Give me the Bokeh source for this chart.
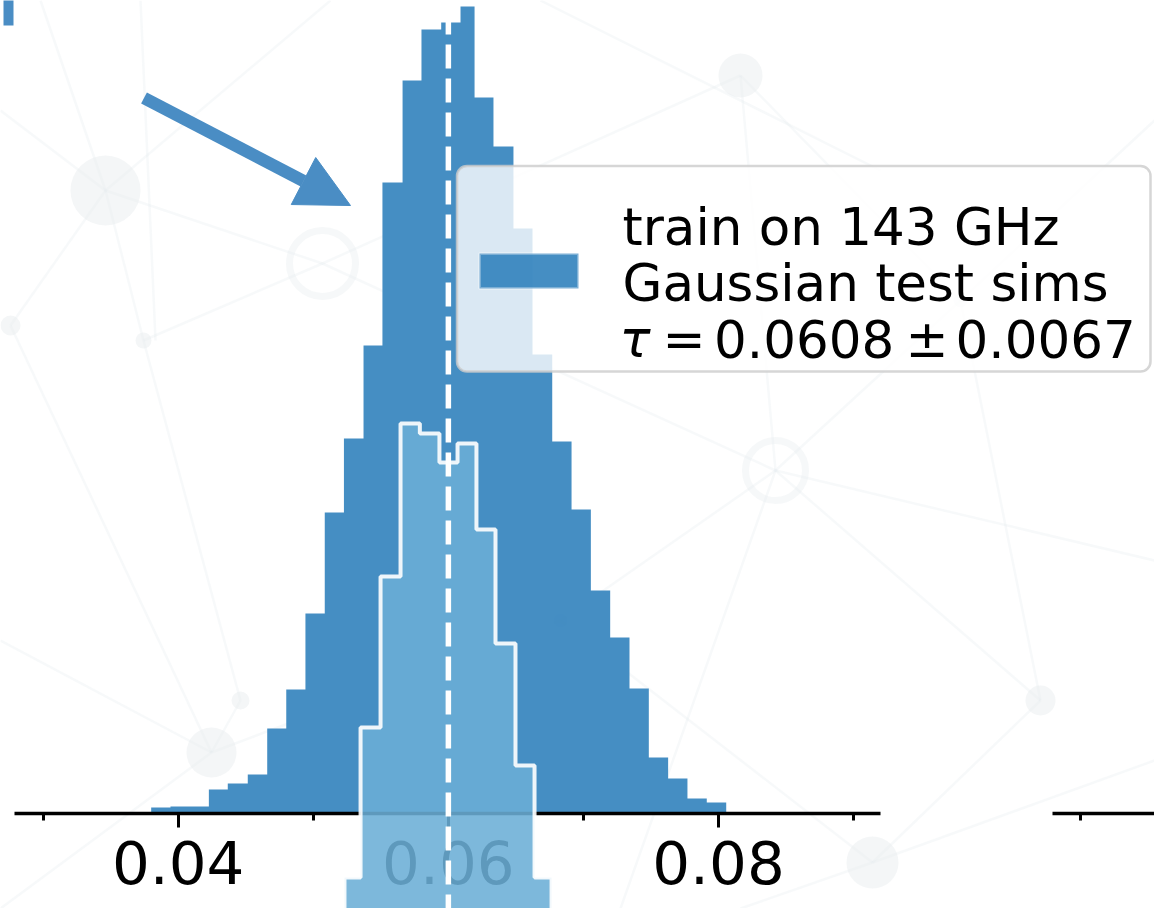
from bokeh.plotting import figure
from bokeh.models import (Range1d, LinearAxis, FixedTicker, NumeralTickFormatter,
                          BoxAnnotation, Label, Arrow, NormalHead)
from bokeh.embed import file_html
from bokeh.resources import INLINE

# ---------------------------------------------------------------- data
# tau estimates of the network trained on 143 GHz, Gaussian test simulations
dark_edges = [0.03800, 0.03943, 0.04086, 0.04227, 0.04367, 0.04515, 0.04659,
              0.04800, 0.04942, 0.05085, 0.05227, 0.05372, 0.05512, 0.05661,
              0.05801, 0.05947, 0.06090, 0.06194, 0.06334, 0.06482, 0.06623,
              0.06769, 0.06912, 0.07055, 0.07198, 0.07341, 0.07484, 0.07627,
              0.07770, 0.07913, 0.08057]
dark_counts = [6, 7, 7, 24, 30, 39, 85, 124, 200, 301, 375, 468, 631, 733,
               784, 791, 807, 716, 667, 585, 459, 372, 304, 223, 176, 125,
               56, 35, 15, 11]

# narrower companion distribution, drawn on a lowered baseline
light_edges = [0.05231, 0.05350, 0.05498, 0.05646, 0.05789, 0.05934, 0.06068,
               0.06208, 0.06349, 0.06497, 0.06638, 0.06764]
light_counts = [136, 286, 437, 590, 580, 551, 570, 484, 370, 248, 136]
light_base = -200

tau_true = 0.06
legend_lines = ["train on 143 GHz", "Gaussian test sims"]
tau_text = ["\u03c4", "=", "0.0608", "\u00b1", "0.0067"]

major_ticks = [0.04, 0.06, 0.08]
minor_ticks = [0.03, 0.05, 0.07, 0.09]
axis_bounds = (0.0279, 0.0920)

# ---------------------------------------------------------------- canvas
W, H = 1154, 908
X0, X1 = 0.026845, 0.112276        # visible tau range across the canvas
Y0, Y1 = -95, 813                  # counts; the spine sits at zero
PANEL_SHIFT = 0.076807             # offset of the neighbouring panel


def fx(px):
    return X0 + px * (X1 - X0) / W


def fy(py):
    return Y1 - py


BLUE = "#3182bd"
LIGHT = "#6baed6"
NET = "#e6eaee"

p = figure(width=W, height=H, x_range=Range1d(X0, X1), y_range=Range1d(Y0, Y1),
           x_axis_type=None, y_axis_type=None, output_backend="svg",
           toolbar_location=None, min_border=0)
p.outline_line_color = None
p.background_fill_color = "white"
p.border_fill_color = "white"
p.extra_x_ranges = {"right": Range1d(X0 - PANEL_SHIFT, X1 - PANEL_SHIFT)}

# faint network backdrop
net_nodes_px = [(105, 190), (322, 263), (211, 752), (775, 470), (872, 862),
                (740, 75), (10, 325), (143, 340), (240, 700), (1040, 700),
                (560, 620), (960, 300)]
net_sizes = [70, 66, 50, 60, 52, 44, 20, 16, 18, 30, 14, 14]
net_rings = [False, True, False, True, False, False, False, False, False,
             False, False, False]
net_links = [(0, 1), (0, 6), (0, 7), (1, 5), (1, 7), (2, 8), (2, 10), (3, 5),
             (3, 10), (3, 11), (4, 10), (4, 9), (3, 9), (5, 11), (8, 7),
             (2, 6), (11, 9), (1, 3)]
net_open_px = [((40, 0), (105, 190)), ((330, 0), (105, 190)), ((0, 110), (105, 190)),
               ((140, 0), (155, 340)), ((540, 0), (880, 170)), ((0, 908), (211, 752)),
               ((0, 640), (211, 752)), ((872, 862), (1154, 760)), ((740, 908), (872, 862)),
               ((1154, 120), (960, 300)), ((620, 908), (775, 470)), ((1154, 560), (775, 470))]

seg_x = [[fx(net_nodes_px[a][0]), fx(net_nodes_px[b][0])] for a, b in net_links]
seg_y = [[fy(net_nodes_px[a][1]), fy(net_nodes_px[b][1])] for a, b in net_links]
seg_x += [[fx(a[0]), fx(b[0])] for a, b in net_open_px]
seg_y += [[fy(a[1]), fy(b[1])] for a, b in net_open_px]
p.multi_line(seg_x, seg_y, line_color=NET, line_alpha=0.3, line_width=2.5)

solid = [i for i, r in enumerate(net_rings) if not r]
ring = [i for i, r in enumerate(net_rings) if r]
p.scatter([fx(net_nodes_px[i][0]) for i in solid], [fy(net_nodes_px[i][1]) for i in solid],
          size=[net_sizes[i] for i in solid], fill_color=NET, fill_alpha=0.45,
          line_color=None)
p.scatter([fx(net_nodes_px[i][0]) for i in ring], [fy(net_nodes_px[i][1]) for i in ring],
          size=[net_sizes[i] for i in ring], fill_color=None, line_color=NET,
          line_alpha=0.35, line_width=7)


def step_outline(edges, counts, base):
    xs, ys = [edges[0]], [base]
    for i, c in enumerate(counts):
        xs += [edges[i], edges[i + 1]]
        ys += [base + c, base + c]
    xs.append(edges[-1])
    ys.append(base)
    return xs, ys


# main histogram
dx, dy = step_outline(dark_edges, dark_counts, 0)
p.patch(dx, dy, fill_color=BLUE, fill_alpha=0.9, line_color=None)

# companion histogram with white step outline, drawn over the spine
lx, ly = step_outline(light_edges, light_counts, light_base)
p.patch(lx, ly, fill_color=LIGHT, fill_alpha=0.88, line_color=None, level="annotation")
p.line(lx, ly, line_color="white", line_alpha=0.9, line_width=4, level="annotation")

# true tau
p.line([tau_true, tau_true], [fy(-24), Y0], line_color="white", line_width=5.5,
       line_dash="24 10", level="annotation")


def make_axis(range_name):
    ax = LinearAxis(x_range_name=range_name, fixed_location=0, bounds=axis_bounds,
                    ticker=FixedTicker(ticks=major_ticks, minor_ticks=minor_ticks),
                    formatter=NumeralTickFormatter(format="0.00"))
    ax.axis_line_width = 3.5
    ax.axis_line_color = "black"
    ax.major_tick_line_width = 3
    ax.minor_tick_line_width = 3
    ax.major_tick_in = 0
    ax.major_tick_out = 14
    ax.minor_tick_in = 0
    ax.minor_tick_out = 7
    ax.major_label_text_font = "DejaVu Sans"
    ax.major_label_text_font_size = "59.5px"
    ax.major_label_text_color = "black"
    ax.major_label_standoff = 13
    return ax


p.add_layout(make_axis("default"), "below")
p.add_layout(make_axis("right"), "below")

# tail of the neighbouring panel heading
p.add_layout(BoxAnnotation(left=fx(3), right=fx(13), top=fy(-2), bottom=fy(25),
                           fill_color="#4a8dc4", fill_alpha=1, line_color=None,
                           level="overlay"))

# arrow pointing at the distribution
arrow_col = "#4a8dc4"
p.add_layout(Arrow(end=NormalHead(size=53, fill_color=arrow_col, line_color=arrow_col,
                                  line_width=1),
                   x_start=fx(143.5), y_start=fy(97.5), x_end=fx(350), y_end=fy(205),
                   line_color=arrow_col, line_width=12.5, level="overlay"))

# legend
p.add_layout(BoxAnnotation(left=fx(456.5), right=fx(1150), top=fy(165.5), bottom=fy(371),
                           fill_color="white", fill_alpha=0.8, line_color="#cccccc",
                           line_alpha=0.8, line_width=2.5, border_radius=10,
                           level="overlay"))
p.add_layout(BoxAnnotation(left=fx(479), right=fx(578), top=fy(253), bottom=fy(288),
                           fill_color=BLUE, fill_alpha=0.9, line_color="white",
                           line_width=3, level="overlay"))

FS = "51.5px"
for txt, base_px in zip(legend_lines, [226, 282]):
    p.add_layout(Label(x=fx(622), y=fy(base_px), text=txt, text_font="DejaVu Sans",
                       text_font_size=FS, text_color="black", text_align="left",
                       text_baseline="alphabetic", level="overlay"))
tau_x_px = [619, 662, 713.5, 905, 955]
for i, (txt, xp) in enumerate(zip(tau_text, tau_x_px)):
    p.add_layout(Label(x=fx(xp), y=fy(338), text=txt, text_font="DejaVu Sans",
                       text_font_size=FS, text_color="black", text_align="left",
                       text_baseline="alphabetic", level="overlay",
                       text_font_style="italic" if i == 0 else "normal"))

open("out.html", "w").write(file_html(p, INLINE))
